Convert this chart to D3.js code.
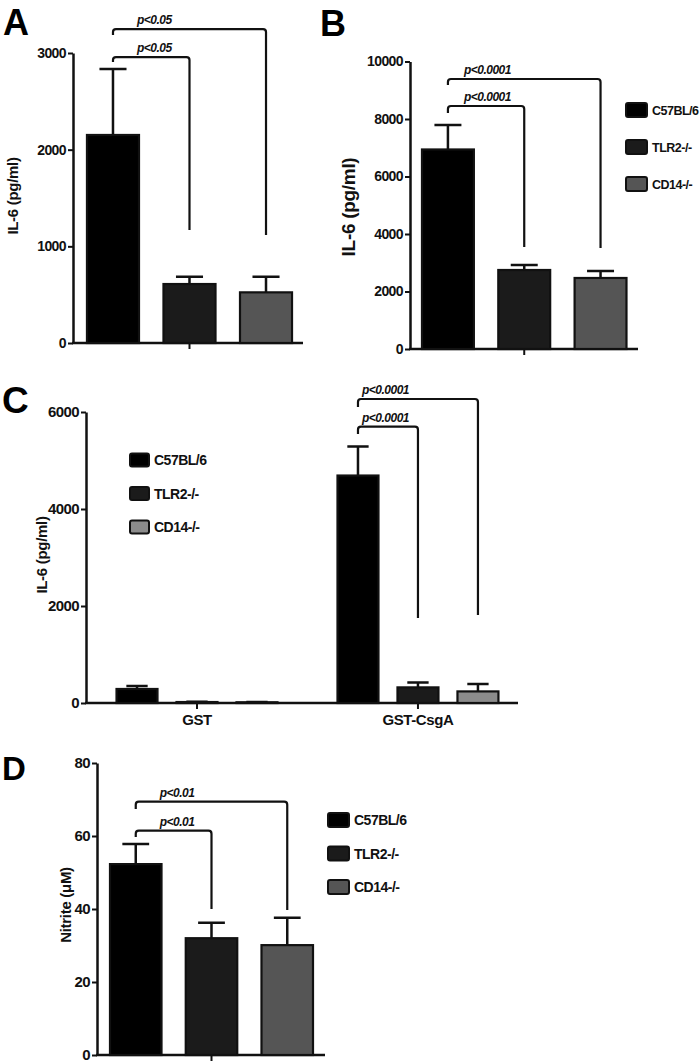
<!DOCTYPE html>
<html>
<head>
<meta charset="utf-8">
<script src="https://cdn.jsdelivr.net/npm/d3@7"></script>
<style>
  body { margin: 0; background: #fff; }
  svg { display: block; font-family: "Liberation Sans", Arial, sans-serif; }
</style>
</head>
<body>
<svg width="700" height="1064"></svg>
<script>
// groups shown in every panel
var groups = ["C57BL/6", "TLR2-/-", "CD14-/-"];

// A: IL-6
var aTicks = [0, 1000, 2000, 3000];
var aMeans = [2152, 610, 524];
var aErrors = [682, 76, 162];
var aPvals = ["p<0.05", "p<0.05"];

// B: IL-6
var bTicks = [0, 2000, 4000, 6000, 8000, 10000];
var bMeans = [6940, 2748, 2470];
var bErrors = [850, 174, 243];
var bPvals = ["p<0.0001", "p<0.0001"];

// C: IL-6, GST vs GST-CsgA
var cCategories = ["GST", "GST-CsgA"];
var cTicks = [0, 2000, 4000, 6000];
var cMeansGST = [289, 20, 15];
var cErrorsGST = [61, 6, 4];
var cMeansCsgA = [4690, 322, 239];
var cErrorsCsgA = [600, 103, 153];
var cPvals = ["p<0.0001", "p<0.0001"];

// D: nitrite
var dTicks = [0, 20, 40, 60, 80];
var dMeans = [52.3, 32.0, 30.1];
var dErrors = [5.5, 4.2, 7.5];
var dPvals = ["p<0.01", "p<0.01"];

var svg = d3.select("svg");
var ink = "#111";

function panel(cfg) {
  var g = svg.append("g");
  var y = d3.scaleLinear().domain([0, cfg.ticks[cfg.ticks.length - 1]]).range([cfg.y0, cfg.yTop]);
  var x = d3.scaleBand().domain(cfg.cats).range([cfg.x0, cfg.x1])
      .paddingInner(cfg.op[0]).paddingOuter(cfg.op[1]).align(cfg.op[2]);
  var xi = d3.scaleBand().domain(groups).range([0, x.bandwidth()])
      .paddingInner(cfg.ip[0]).paddingOuter(cfg.ip[1]).align(cfg.ip[2]);
  var cx = function(c, j) { return x(c) + xi(groups[j]) + xi.bandwidth() / 2; };

  // panel letter
  g.append("text").attr("x", cfg.letter[1]).attr("y", cfg.letter[2])
    .attr("font-size", cfg.letter[3]).attr("font-weight", "bold").text(cfg.letter[0]);

  // y axis
  var ya = g.append("g").attr("transform", "translate(" + cfg.x0 + ",0)")
    .call(d3.axisLeft(y).tickValues(cfg.ticks).tickSize(5).tickSizeOuter(0).tickPadding(2).tickFormat(d3.format("d")));
  ya.select(".domain").attr("stroke", ink).attr("stroke-width", 2.5);
  ya.selectAll(".tick line").attr("stroke", ink).attr("stroke-width", 2);
  ya.selectAll(".tick text").attr("fill", ink).attr("font-size", cfg.tickFont)
    .attr("font-weight", "bold").attr("letter-spacing", "-0.6px");

  g.append("text")
    .attr("transform", "translate(" + cfg.label[1] + "," + cfg.label[2] + ") rotate(-90)")
    .attr("text-anchor", "middle").attr("dy", "0.35em")
    .attr("font-size", cfg.label[3]).attr("font-weight", "bold").attr("fill", ink)
    .attr("letter-spacing", "-0.3px")
    .text(cfg.label[0]);

  // x axis
  g.append("line").attr("x1", cfg.x0 - 1).attr("x2", cfg.xEnd).attr("y1", cfg.y0).attr("y2", cfg.y0)
    .attr("stroke", ink).attr("stroke-width", 2.5);
  cfg.cats.forEach(function(c) {
    var xc = cx(c, 1);
    g.append("line").attr("x1", xc).attr("x2", xc).attr("y1", cfg.y0).attr("y2", cfg.y0 + 6)
      .attr("stroke", ink).attr("stroke-width", 2);
    if (c) {
      g.append("text").attr("x", xc).attr("y", cfg.y0 + 22).attr("text-anchor", "middle")
        .attr("font-size", 15).attr("font-weight", "bold").attr("fill", ink)
        .attr("letter-spacing", "-0.4px").text(c);
    }
  });

  // bars + error bars
  var rows = [];
  cfg.cats.forEach(function(c, i) {
    groups.forEach(function(grp, j) {
      rows.push({cat: c, j: j, mean: cfg.means[i][j], err: cfg.errors[i][j]});
    });
  });
  var cap = xi.bandwidth() * 0.26;
  g.selectAll(".err").data(rows).enter().append("path")
    .attr("d", function(d) {
      var xc = cx(d.cat, d.j);
      return "M" + xc + "," + y(d.mean) + "V" + y(d.mean + d.err) +
        "M" + (xc - cap) + "," + y(d.mean + d.err) + "H" + (xc + cap);
    })
    .attr("stroke", ink).attr("stroke-width", 2.5).attr("fill", "none");
  g.selectAll(".bar").data(rows).enter().append("rect")
    .attr("x", function(d) { return x(d.cat) + xi(groups[d.j]); })
    .attr("y", function(d) { return y(d.mean); })
    .attr("width", xi.bandwidth())
    .attr("height", function(d) { return cfg.y0 - y(d.mean); })
    .attr("fill", function(d) { return cfg.fills[d.j]; })
    .attr("stroke", ink).attr("stroke-width", 2.2);

  // significance brackets
  cfg.brackets.forEach(function(b, k) {
    var lx = cx(b.cat, 0), rx = cx(b.cat, b.to);
    var yt = y(b.top), r = 3;
    g.append("path")
      .attr("d", "M" + lx + "," + y(b.left) + "V" + (yt + r) + "Q" + lx + "," + yt + " " + (lx + r) + "," + yt +
        "H" + (rx - r) + "Q" + rx + "," + yt + " " + rx + "," + (yt + r) + "V" + y(b.right))
      .attr("stroke", ink).attr("stroke-width", 2.2).attr("fill", "none");
    g.append("text").attr("x", lx + cfg.pOffset).attr("y", yt - 5)
      .attr("font-size", 12).attr("font-weight", "bold").attr("font-style", "italic")
      .attr("letter-spacing", "-0.5px").attr("fill", ink).text(cfg.pvals[k]);
  });

  // legend
  if (cfg.legend) {
    var L = cfg.legend;
    groups.forEach(function(grp, j) {
      var yy = L.y + j * L.dy;
      g.append("rect").attr("x", L.x).attr("y", yy - L.h / 2).attr("width", L.w).attr("height", L.h)
        .attr("rx", 2).attr("fill", cfg.fills[j]).attr("stroke", ink).attr("stroke-width", 2);
      g.append("text").attr("x", L.x + L.w + 5).attr("y", yy).attr("dy", "0.36em")
        .attr("font-size", L.size).attr("font-weight", "bold").attr("fill", ink)
        .attr("letter-spacing", "-0.5px").text(grp);
    });
  }
}

var fillsDark = ["#000000", "#1b1b1b", "#555555"];
var fillsLight = ["#000000", "#1b1b1b", "#8c8c8c"];

panel({
  letter: ["A", 3, 35, 36], cats: [""], ticks: aTicks, means: [aMeans], errors: [aErrors],
  x0: 73, x1: 303, xEnd: 303, y0: 343, yTop: 53, op: [0, 0, 0.5], ip: [0.32, 0.163, 0.56],
  tickFont: 14, label: ["IL-6 (pg/ml)", 13, 196, 15], fills: fillsDark, pvals: aPvals, pOffset: 24,
  brackets: [{cat: "", to: 1, top: 2958, left: 2906, right: 1169},
             {cat: "", to: 2, top: 3247, left: 3185, right: 1117}]
});

panel({
  letter: ["B", 320, 36, 36], cats: [""], ticks: bTicks, means: [bMeans], errors: [bErrors],
  x0: 410, x1: 638, xEnd: 638, y0: 349, yTop: 61.5, op: [0, 0, 0.5], ip: [0.32, 0.154, 0.51],
  tickFont: 14, label: ["IL-6 (pg/ml)", 348, 207, 19], fills: fillsDark, pvals: bPvals, pOffset: 16,
  brackets: [{cat: "", to: 1, top: 8452, left: 8209, right: 3548},
             {cat: "", to: 2, top: 9391, left: 9183, right: 3513}],
  legend: {x: 626, y: 110, dy: 37, w: 21, h: 14, size: 12.5}
});

panel({
  letter: ["C", 2, 413, 37], cats: cCategories, ticks: cTicks,
  means: [cMeansGST, cMeansCsgA], errors: [cErrorsGST, cErrorsCsgA],
  x0: 86, x1: 518, xEnd: 518, y0: 703, yTop: 412, op: [0.2, 0.0775, 0.66], ip: [0.317, 0.132, 0.5],
  tickFont: 15, label: ["IL-6 (pg/ml)", 42, 555, 15], fills: fillsLight, pvals: cPvals, pOffset: 4,
  brackets: [{cat: "GST-CsgA", to: 1, top: 5697, left: 5546, right: 1753},
             {cat: "GST-CsgA", to: 2, top: 6268, left: 6103, right: 1814}],
  legend: {x: 130, y: 460, dy: 33.5, w: 19, h: 13, size: 14}
});

panel({
  letter: ["D", 2, 780, 33], cats: [""], ticks: dTicks, means: [dMeans], errors: [dErrors],
  x0: 97, x1: 325, xEnd: 325, y0: 1055, yTop: 763, op: [0, 0, 0.5], ip: [0.32, 0.165, 0.52],
  tickFont: 15, label: ["Nitrite (\u03bcM)", 66, 905, 15], fills: fillsDark, pvals: dPvals, pOffset: 24,
  brackets: [{cat: "", to: 1, top: 61.45, left: 59.7, right: 40},
             {cat: "", to: 2, top: 69.4, left: 67.4, right: 39.7}],
  legend: {x: 328, y: 820, dy: 33.5, w: 21, h: 14, size: 14}
});
</script>
</body>
</html>
